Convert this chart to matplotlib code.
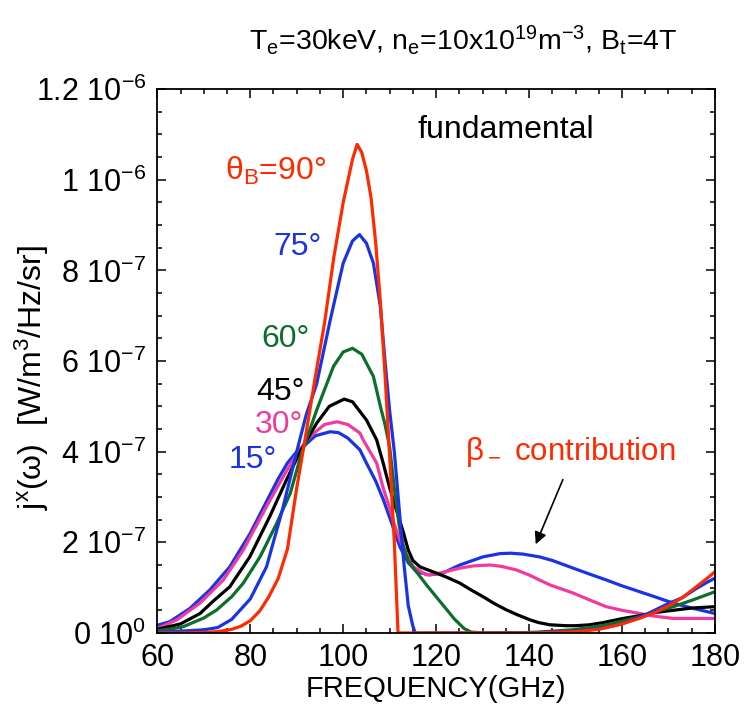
import numpy as np
import matplotlib
matplotlib.use("agg")
import matplotlib.pyplot as plt
from matplotlib.ticker import MultipleLocator, FixedLocator, FixedFormatter

# emission j^x(omega) in units of 1e-7 W/m^3/Hz/sr
f_90 = [60, 65, 70, 73, 76, 78, 80, 82, 84, 86, 88, 90, 91, 92, 94, 96, 98, 100, 102, 103,
        104, 105, 106, 107, 108, 109, 110, 111, 111.8, 115, 120, 130, 140, 145, 150, 155,
        160, 164, 167, 170, 173, 176, 178, 180]
j_90 = [0, 0, 0.01, 0.03, 0.08, 0.15, 0.27, 0.48, 0.8, 1.2, 1.85, 3.2, 3.8, 4.4, 5.65, 6.85,
        8.3, 9.5, 10.45, 10.78, 10.6, 10.2, 9.6, 8.6, 7.3, 5.7, 3.9, 2.0, 0, 0, 0, 0, 0, 0.01,
        0.03, 0.08, 0.2, 0.33, 0.45, 0.6, 0.78, 1.02, 1.18, 1.35]

f_75 = [60, 65, 70, 73, 76, 80, 83.5, 87, 90, 92, 94.3, 97.2, 100, 102, 103.5, 105, 106.5,
        108, 109, 110, 111, 112, 113, 114, 115, 115.5, 120, 130, 140, 145, 150, 155, 160,
        165, 170, 173, 176, 178, 180]
j_75 = [0.02, 0.04, 0.07, 0.12, 0.3, 0.75, 1.46, 2.75, 4.0, 4.8, 5.5, 6.9, 8.16, 8.65, 8.79,
        8.6, 8.16, 7.2, 6.0, 4.9, 4.0, 2.8, 1.6, 0.6, 0.15, 0, 0, 0, 0, 0.02, 0.04, 0.09,
        0.2, 0.4, 0.65, 0.78, 0.98, 1.1, 1.21]

f_60 = [60, 63, 65.6, 70, 72.8, 76, 78.5, 82.1, 85.7, 88.6, 91, 94.3, 97.9, 100, 102, 104,
        106.5, 108, 109, 110, 111, 112, 113, 114, 115, 116.5, 118, 120, 122, 124, 126, 127.5,
        130, 140, 142, 145, 149.5, 153, 156.7, 160, 163.8, 167, 171, 175, 180]
j_60 = [0.05, 0.09, 0.14, 0.33, 0.51, 0.8, 1.1, 1.68, 2.42, 3.08, 3.95, 4.92, 5.88, 6.2, 6.28,
        6.15, 5.66, 5.0, 4.6, 4.1, 3.2, 2.4, 1.9, 1.6, 1.45, 1.25, 1.05, 0.8, 0.55, 0.3, 0.1,
        0.02, 0, 0.01, 0.02, 0.04, 0.07, 0.12, 0.18, 0.26, 0.36, 0.46, 0.58, 0.72, 0.91]

f_45 = [60, 65, 69.2, 72, 75.6, 79.9, 84.2, 87.8, 91, 94.3, 97, 100.2, 102, 105, 107.2,
        108.6, 110, 111.5, 113, 114, 115, 116.5, 118, 120.1, 122.5, 125.1, 127.5, 130.1,
        132.5, 135.1, 137.5, 140.2, 142, 144.5, 148, 150, 153, 156, 160.2, 163.8, 167, 171,
        175, 180]
j_45 = [0.08, 0.2, 0.43, 0.7, 1.02, 1.68, 2.57, 3.38, 4.05, 4.63, 5.0, 5.16, 5.1, 4.7, 4.26,
        3.75, 3.2, 2.7, 2.2, 1.83, 1.6, 1.46, 1.4, 1.32, 1.22, 1.1, 0.95, 0.8, 0.65, 0.51,
        0.4, 0.29, 0.23, 0.18, 0.16, 0.16, 0.18, 0.23, 0.32, 0.38, 0.45, 0.5, 0.55, 0.58]

f_30 = [60, 64.2, 69.2, 74.2, 78.5, 83.5, 87.1, 90, 93, 96, 98.7, 101, 103.6, 104.3, 107.2,
        108.6, 110, 111, 112.2, 113.5, 115.1, 117.9, 120.8, 125.1, 128, 131.6, 134, 137.3,
        140, 142.2, 144.5, 149.5, 153, 156.6, 160, 163.8, 167, 171, 175, 180]
j_30 = [0.1, 0.29, 0.66, 1.17, 1.83, 2.79, 3.45, 3.95, 4.35, 4.6, 4.66, 4.6, 4.41, 4.26,
        3.75, 3.2, 2.75, 2.4, 2.05, 1.75, 1.46, 1.28, 1.32, 1.43, 1.48, 1.5, 1.47, 1.39,
        1.28, 1.17, 1.06, 0.88, 0.73, 0.58, 0.5, 0.43, 0.37, 0.32, 0.32, 0.32]

f_15 = [60, 62.7, 67, 71.3, 75.6, 80, 82, 84, 86, 88, 90, 91.4, 94, 97.2, 99, 101, 103.6,
        105, 107, 108.6, 110, 112.2, 114, 115.8, 118.6, 121.4, 125.1, 130.1, 133.7, 136,
        138.7, 142.2, 145, 149.5, 153, 156.6, 160, 163.8, 167, 171, 175, 180]
j_15 = [0.17, 0.25, 0.54, 0.95, 1.46, 2.2, 2.6, 3.0, 3.4, 3.75, 4.0, 4.11, 4.35, 4.44, 4.42,
        4.3, 4.04, 3.75, 3.35, 2.95, 2.55, 1.9, 1.55, 1.35, 1.28, 1.32, 1.5, 1.68, 1.75,
        1.76, 1.74, 1.68, 1.6, 1.43, 1.3, 1.17, 1.04, 0.91, 0.8, 0.66, 0.55, 0.43]

y_ticks = [0, 2e-7, 4e-7, 6e-7, 8e-7, 1e-6, 1.2e-6]
y_labels = ["0 10$^{0}$", "2 10$^{-7}$", "4 10$^{-7}$", "6 10$^{-7}$", "8 10$^{-7}$",
            "1 10$^{-6}$", "1.2 10$^{-6}$"]

RED = "#ff2a00"
BLUE = "#1a33e6"
GREEN = "#0b6e2b"
PINK = "#f23a9e"

plt.rcParams["font.family"] = ["Liberation Sans", "DejaVu Sans"]
plt.rcParams["mathtext.default"] = "regular"

fig = plt.figure(figsize=(7.47, 7.10), dpi=100)
ax = fig.add_axes([0.2106, 0.1085, 0.7465, 0.766])

scale = 1e-7
lw = 2.3
ax.plot(f_15, np.array(j_15) * scale, color=BLUE, lw=lw)
ax.plot(f_30, np.array(j_30) * scale, color=PINK, lw=lw)
ax.plot(f_45, np.array(j_45) * scale, color="black", lw=lw)
ax.plot(f_60, np.array(j_60) * scale, color=GREEN, lw=lw)
ax.plot(f_75, np.array(j_75) * scale, color=BLUE, lw=lw)
ax.plot(f_90, np.array(j_90) * scale, color=RED, lw=lw)

ax.set_xlim(60, 180)
ax.set_ylim(0, 1.2e-6)
ax.xaxis.set_major_locator(MultipleLocator(20))
ax.xaxis.set_minor_locator(MultipleLocator(5))
ax.yaxis.set_major_locator(FixedLocator(y_ticks))
ax.yaxis.set_major_formatter(FixedFormatter(y_labels))
ax.yaxis.set_minor_locator(MultipleLocator(0.5e-7))
ax.tick_params(which="both", direction="in", top=True, right=True, width=1.1)
ax.tick_params(which="major", length=6.5)
ax.tick_params(which="minor", length=3.6)
ax.tick_params(axis="y", labelsize=22, pad=8)
ax.tick_params(axis="x", labelsize=22, pad=7)
for s in ax.spines.values():
    s.set_linewidth(1.3)

ax.set_xlabel("FREQUENCY(GHz)", fontsize=21, labelpad=2)
ax.set_ylabel("j$^x$(ω)  [W/m$^3$/Hz/sr]", fontsize=23)
ax.yaxis.set_label_coords(-0.19, 0.47)
fig.text(0.62, 0.944, "T$_e$=30keV, n$_e$=10x10$^{19}$m$^{-3}$, B$_t$=4T",
         fontsize=20.5, ha="center", va="center")

fs = 23
ax.text(115.9, 10.93 * scale, "fundamental", fontsize=fs, ha="left", va="baseline")
ax.text(96.4, 10.0 * scale, "θ$_B$=90°", color=RED, fontsize=fs, ha="right", va="baseline")
ax.text(95.4, 8.34 * scale, "75°", color=BLUE, fontsize=fs, ha="right", va="baseline")
ax.text(92.8, 6.31 * scale, "60°", color=GREEN, fontsize=fs, ha="right", va="baseline")
ax.text(91.8, 5.14 * scale, "45°", color="black", fontsize=fs, ha="right", va="baseline")
ax.text(91.3, 4.42 * scale, "30°", color=PINK, fontsize=fs, ha="right", va="baseline")
ax.text(85.7, 3.64 * scale, "15°", color=BLUE, fontsize=fs, ha="right", va="baseline")
ax.text(126.2, 3.82 * scale, "β$_-$ contribution", color=RED, fontsize=22.5,
        ha="left", va="baseline")
ax.annotate("", xy=(141.2, 1.9 * scale), xytext=(147.5, 3.44 * scale),
            arrowprops=dict(arrowstyle="-|>", color="black", lw=1.2, mutation_scale=18))

fig.savefig("out.png", dpi=100)
